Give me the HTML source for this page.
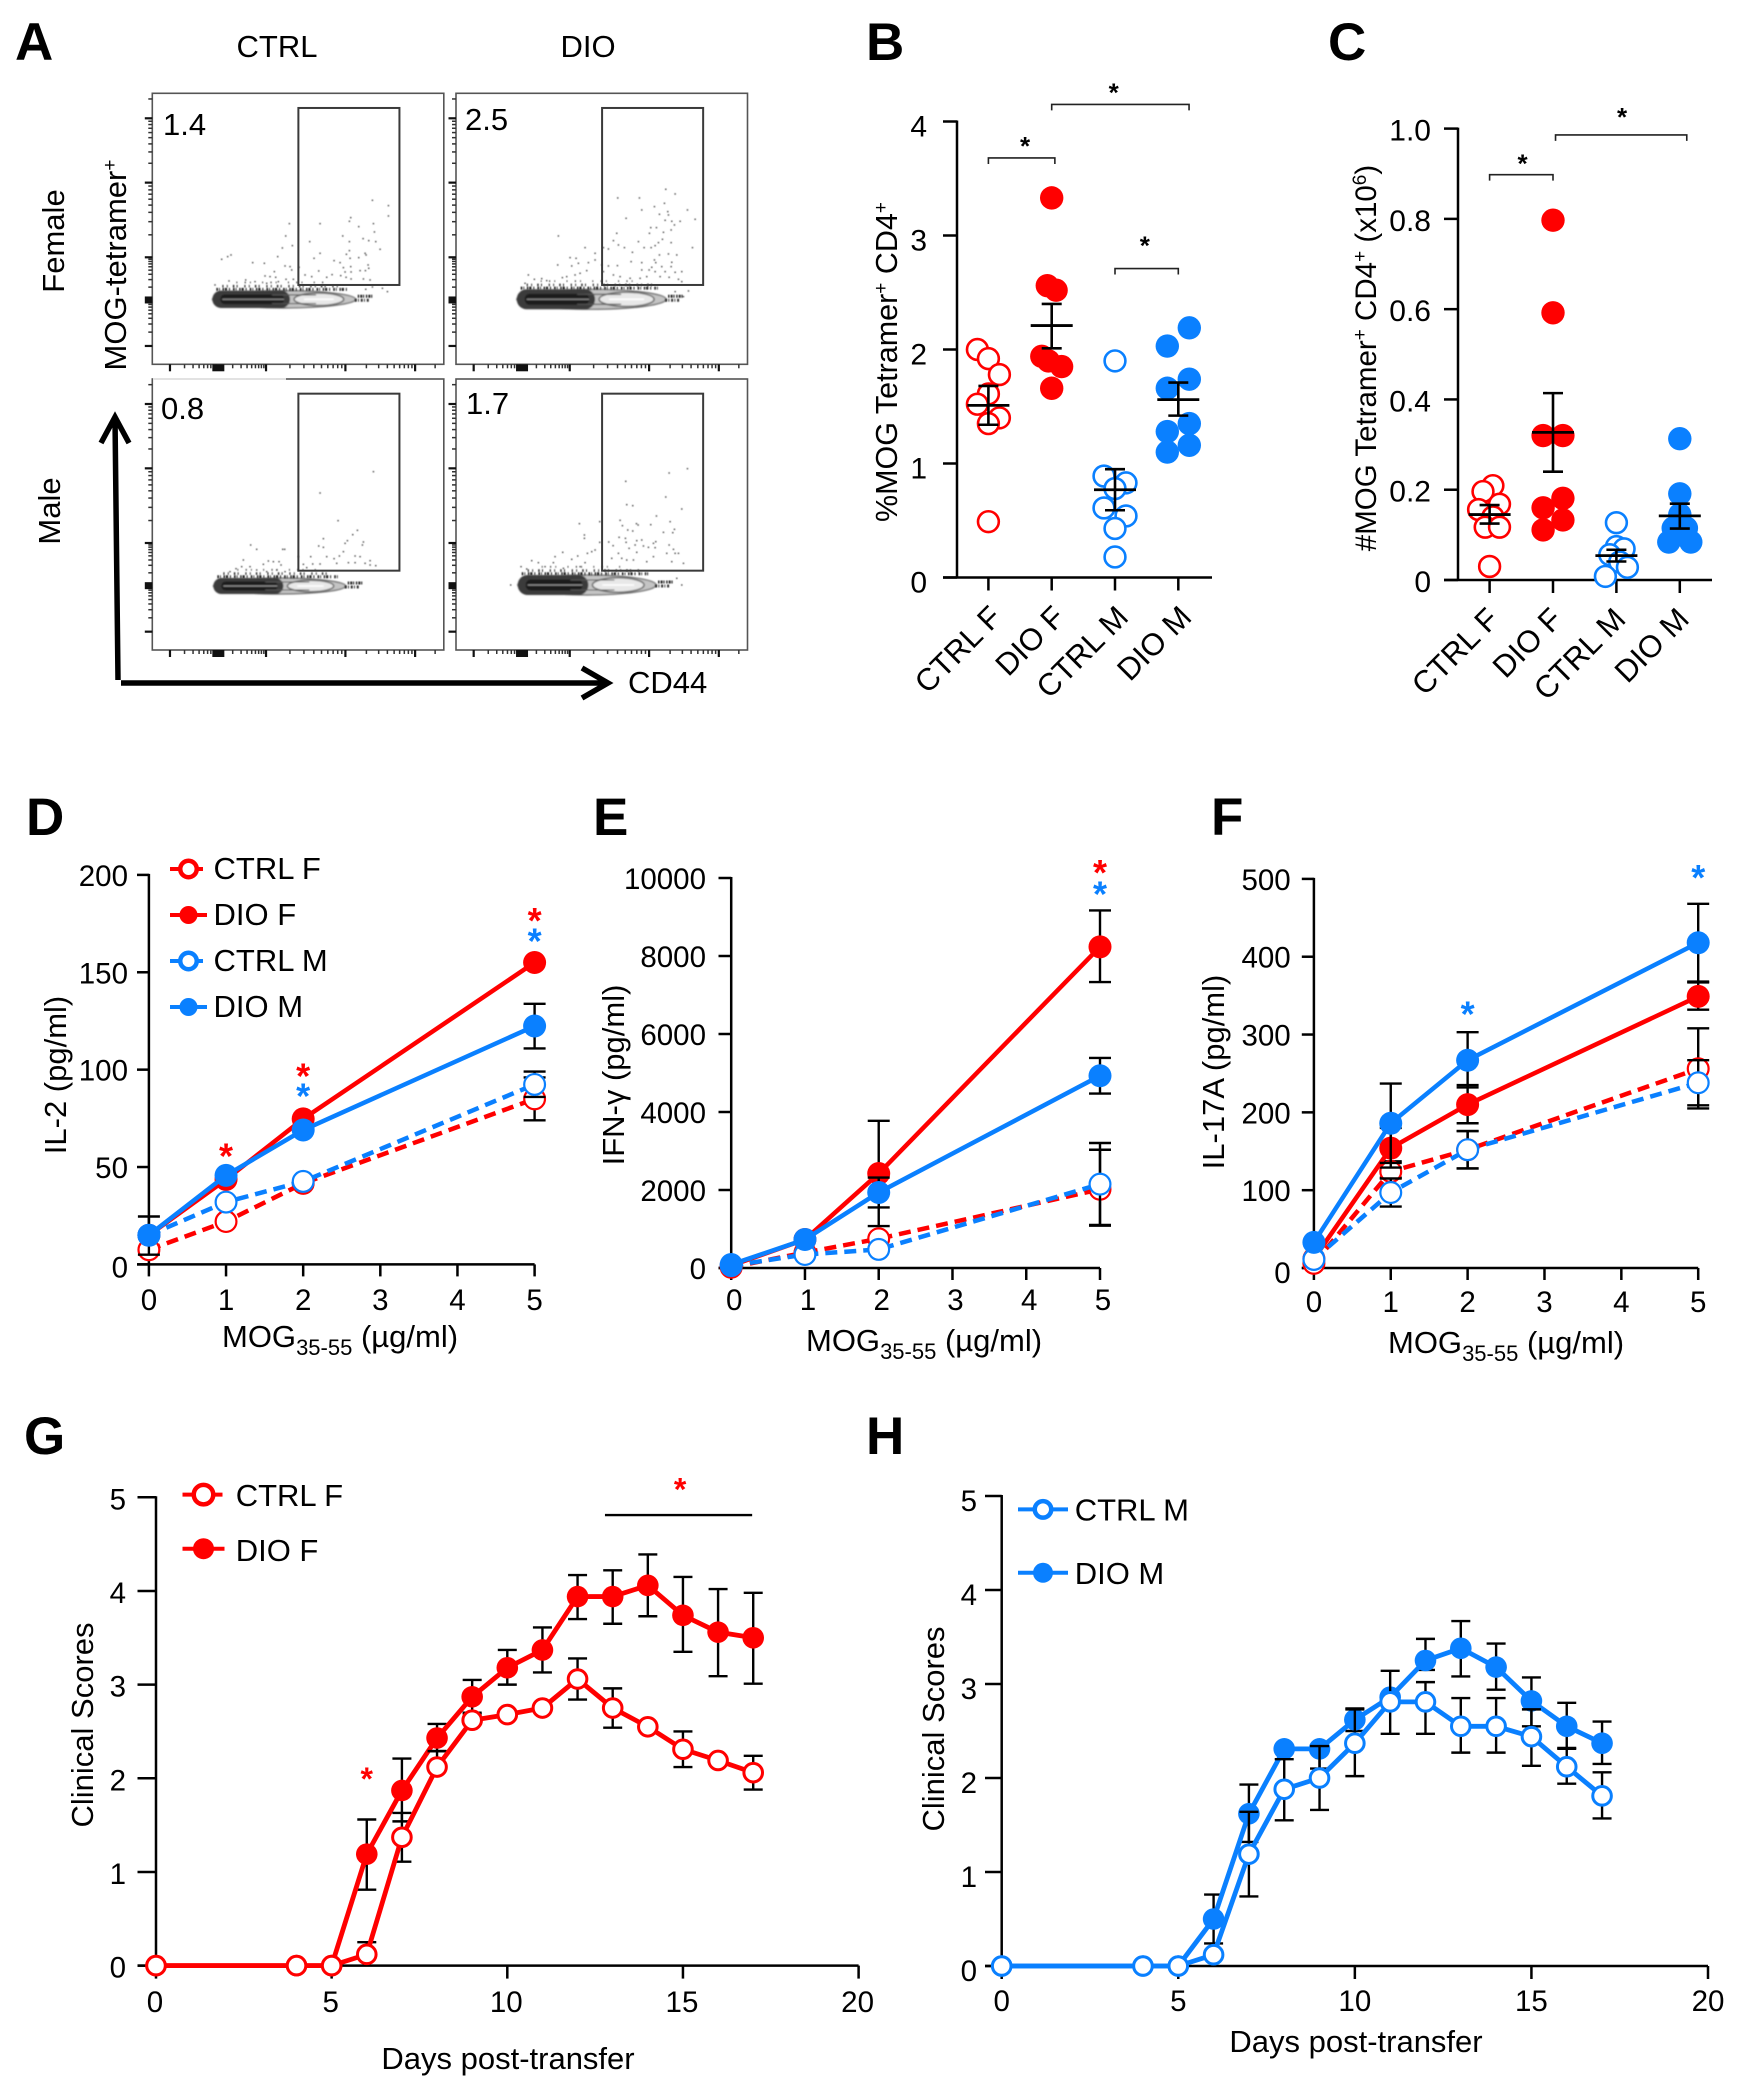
<!DOCTYPE html>
<html lang="en">
<head>
<meta charset="utf-8">
<title>MOG tetramer, cytokine and clinical score figure</title>
<style>
html,body{margin:0;padding:0;background:#fff;}
svg{display:block;}
text{font-family:"Liberation Sans",sans-serif;}
.letter{font-size:53px;font-weight:bold;}
.lab{font-size:31px;}
</style>
</head>
<body>
<svg id="figure" width="1747" height="2100" viewBox="0 0 1747 2100">
  <defs>
    <filter id="soft" x="-5%" y="-5%" width="110%" height="110%"><feGaussianBlur stdDeviation="0.4"/></filter>
    <filter id="softer" x="-5%" y="-30%" width="110%" height="160%"><feGaussianBlur stdDeviation="0.85"/></filter>
  </defs>
  <rect width="1747" height="2100" fill="#fff"/>

  <text class="letter" x="15" y="60">A</text>
  <text class="letter" x="866" y="60">B</text>
  <text class="letter" x="1328" y="60">C</text>
  <text class="letter" x="26" y="835">D</text>
  <text class="letter" x="593" y="835">E</text>
  <text class="letter" x="1211" y="835">F</text>
  <text class="letter" x="24" y="1454">G</text>
  <text class="letter" x="866" y="1454">H</text>

  <text class="lab" x="277" y="57" text-anchor="middle">CTRL</text>
  <text class="lab" x="588" y="57" text-anchor="middle">DIO</text>
  <text class="lab" transform="translate(64,241) rotate(-90)" text-anchor="middle">Female</text>
  <text class="lab" transform="translate(60,511) rotate(-90)" text-anchor="middle">Male</text>
  <text class="lab" transform="translate(126,265) rotate(-90)" text-anchor="middle">MOG-tetramer<tspan dy="-10" font-size="19">+</tspan></text>
  <text class="lab" x="628" y="693">CD44</text>
  <path d="M118 680 L115 418 M101 443 L115 417 L129 443" fill="none" stroke="#000" stroke-width="5.5"/>
  <path d="M121 683 L606 683 M582 668 L608 683 L582 698" fill="none" stroke="#000" stroke-width="5.5"/>

  <text font-size="30.5" transform="translate(897,362) rotate(-90)" text-anchor="middle">%MOG Tetramer<tspan dy="-10" font-size="19">+</tspan><tspan dy="10"> CD4</tspan><tspan dy="-10" font-size="19">+</tspan></text>
  <text font-size="29.5" transform="translate(1376,358) rotate(-90)" text-anchor="middle">#MOG Tetramer<tspan dy="-10" font-size="19">+</tspan><tspan dy="10"> CD4</tspan><tspan dy="-10" font-size="19">+</tspan><tspan dy="10"> (x10</tspan><tspan dy="-10" font-size="19">6</tspan><tspan dy="10">)</tspan></text>

  <text class="lab" transform="translate(66,1075) rotate(-90)" text-anchor="middle">IL-2 (pg/ml)</text>
  <text class="lab" x="222" y="1347">MOG<tspan dy="8" font-size="22">35-55</tspan><tspan dy="-8"> (µg/ml)</tspan></text>
  <text class="lab" transform="translate(624,1075) rotate(-90)" text-anchor="middle">IFN-γ (pg/ml)</text>
  <text class="lab" x="806" y="1351">MOG<tspan dy="8" font-size="22">35-55</tspan><tspan dy="-8"> (µg/ml)</tspan></text>
  <text class="lab" transform="translate(1224,1072) rotate(-90)" text-anchor="middle">IL-17A (pg/ml)</text>
  <text class="lab" x="1388" y="1353">MOG<tspan dy="8" font-size="22">35-55</tspan><tspan dy="-8"> (µg/ml)</tspan></text>

  <text class="lab" transform="translate(93,1725) rotate(-90)" text-anchor="middle">Clinical Scores</text>
  <text class="lab" x="508" y="2069" text-anchor="middle">Days post-transfer</text>
  <text class="lab" transform="translate(944,1729) rotate(-90)" text-anchor="middle">Clinical Scores</text>
  <text class="lab" x="1356" y="2052" text-anchor="middle">Days post-transfer</text>
</svg>

<script>
/* ---------- Panel A: flow cytometry events, [CD44 channel, tetramer channel] ---------- */
const flowCtrlFemaleEvents = [[660,492],[708,476],[708,445],[595,440],[591,429],[663,422],[619,413],[503,422],[411,422],[666,397],[571,385],[400,385],[591,368],[632,377],[649,371],[670,368],[472,368],[420,356],[390,349],[683,345],[591,341],[503,333],[582,330],[638,333],[641,328],[376,323],[485,318],[593,318],[619,320],[545,311],[563,305],[208,315],[226,323],[236,328],[301,305],[336,303],[398,295],[413,293],[440,291],[573,290],[595,293],[647,298],[649,288],[623,281],[639,281],[578,277],[596,277],[499,280],[366,278],[418,283],[338,265],[353,263],[370,261],[401,255],[423,255],[458,268],[478,263],[523,261],[539,269],[565,266],[581,261],[596,256],[633,256],[653,253],[280,253],[230,250],[188,238],[308,248],[343,243],[378,248],[660,232],[690,228],[640,225],[705,218]];
const flowDioFemaleEvents = [[629,525],[657,511],[485,499],[550,499],[625,483],[595,473],[557,463],[694,463],[610,450],[635,458],[637,448],[510,438],[717,435],[627,432],[647,429],[672,429],[655,418],[584,410],[601,410],[580,393],[622,396],[645,403],[482,393],[307,385],[472,371],[619,375],[547,368],[607,365],[645,365],[487,358],[597,356],[585,350],[564,350],[457,346],[442,350],[505,350],[709,350],[387,350],[529,336],[417,333],[610,328],[637,331],[662,328],[342,320],[360,318],[595,313],[599,305],[557,305],[647,306],[525,308],[367,303],[347,295],[397,305],[417,313],[305,298],[587,291],[617,293],[645,293],[437,298],[457,295],[484,296],[557,283],[579,283],[597,278],[627,278],[657,276],[677,278],[392,281],[372,273],[357,268],[332,263],[319,260],[217,268],[235,255],[257,257],[272,251],[207,243],[442,278],[472,268],[492,263],[522,258],[552,258],[572,263],[612,263],[639,261],[667,255],[677,248],[697,220],[682,203],[657,218]];
const flowCtrlMaleEvents = [[663,535],[503,471],[557,388],[615,359],[601,346],[513,334],[585,328],[633,324],[630,315],[578,320],[499,312],[513,308],[295,315],[313,302],[391,302],[397,302],[573,295],[438,280],[475,280],[523,280],[561,282],[545,274],[608,282],[623,280],[273,270],[348,267],[363,265],[380,265],[653,268],[453,257],[481,258],[503,258],[553,260],[588,262],[608,262],[638,260],[653,255],[670,253],[333,257],[386,255],[268,250],[293,250],[251,244],[233,235],[313,240],[343,235],[373,240],[398,235],[463,247]];
const flowDioMaleEvents = [[694,544],[639,531],[509,506],[629,459],[512,436],[530,433],[677,423],[601,402],[492,389],[642,385],[370,379],[431,385],[541,379],[546,375],[584,376],[499,373],[655,362],[515,360],[530,357],[622,353],[650,352],[385,345],[385,335],[489,338],[508,335],[510,323],[557,330],[542,328],[599,325],[592,320],[458,324],[471,313],[431,323],[537,315],[562,312],[577,308],[519,305],[639,315],[597,307],[652,302],[417,300],[394,290],[320,293],[407,295],[542,293],[487,290],[592,280],[632,290],[667,290],[657,290],[365,282],[467,275],[497,275],[512,270],[532,270],[572,265],[647,265],[682,260],[297,280],[347,272],[227,268],[292,262],[387,262],[195,250],[212,243],[247,262],[267,250],[322,245],[372,250],[164,195],[677,195],[662,215]];
const flowPercentLabels = ['1.4','2.5','0.8','1.7'];
const cd44Decades = [53,198,341,579,788];
const tetramerDecades = [55,193,321,545,738];
const logMinorSteps = [2,3,4,5,6,7,8,9];

/* ---------- Panels B and C ---------- */
const groupCategories = ['CTRL F','DIO F','CTRL M','DIO M'];

const bYTicks = [0,1,2,3,4];
const bCtrlFValues = [2.0,1.92,1.78,1.61,1.52,1.40,1.35,0.49];
const bDioFValues = [3.33,2.56,2.52,1.94,1.90,1.85,1.66];
const bCtrlMValues = [1.90,0.89,0.83,0.78,0.61,0.54,0.43,0.18];
const bDioMValues = [2.19,2.03,1.74,1.66,1.35,1.28,1.16,1.10];
const bCtrlFSlots = [-1,0,1,0,-1,1,0,0];
const bDioFSlots = [0,-0.4,0.4,-0.9,-0.3,0.9,0];
const bCtrlMSlots = [0,-1,1,0,-1,1,0,0];
const bDioMSlots = [1,-1,1,-1,1,-1,1,-1];
const bMeans = [1.51,2.21,0.77,1.56];
const bSemUpper = [1.68,2.40,0.95,1.71];
const bSemLower = [1.34,2.01,0.59,1.42];
const bBracketStart = [0,1,2];
const bBracketEnd = [1.05,3.17,3];
const bBracketLevel = [3.68,4.15,2.71];
const bStarPosition = [0.58,1.98,2.47];
const bStarLevel = [3.80,4.27,2.93];

const cYTicks = [0,0.2,0.4,0.6,0.8,1.0];
const cYTickLabels = ['0','0.2','0.4','0.6','0.8','1.0'];
const cCtrlFValues = [0.209,0.196,0.168,0.156,0.14,0.117,0.117,0.03];
const cDioFValues = [0.797,0.592,0.32,0.32,0.181,0.16,0.133,0.111];
const cCtrlMValues = [0.127,0.074,0.069,0.056,0.04,0.028,0.008];
const cDioMValues = [0.313,0.191,0.145,0.115,0.115,0.10,0.084,0.084];
const cCtrlFSlots = [0.3,-0.6,0.9,-1,0.3,-0.4,0.9,0];
const cDioFSlots = [0,0,-0.9,0.9,0.9,-0.9,0.9,-0.9];
const cCtrlMSlots = [0,0,0.7,-0.6,0.3,1,-1];
const cDioMSlots = [0,0,0,-0.6,0.6,0,-1,1];
const cMeans = [0.145,0.327,0.054,0.142];
const cSemUpper = [0.166,0.414,0.067,0.169];
const cSemLower = [0.125,0.24,0.041,0.114];
const cBracketStart = [0,1.04];
const cBracketEnd = [1,3.11];
const cBracketLevel = [0.898,0.986];
const cStarPosition = [0.52,2.09];
const cStarLevel = [0.927,1.03];

/* ---------- Panels D, E, F ---------- */
const doseTicks = [0,1,2,3,4,5];
const doses = [0,1,2,5];

const dYTicks = [0,50,100,150,200];
const dCtrlF = [7.5,22,41.6,85];
const dCtrlFUpper = [null,null,null,96];
const dCtrlFLower = [null,null,null,74];
const dDioF = [15,43.6,74.7,155];
const dDioFUpper = [null,null,null,null];
const dDioFLower = [null,null,null,null];
const dCtrlM = [15,32,42.6,92.4];
const dCtrlMUpper = [null,null,null,99];
const dCtrlMLower = [null,null,null,86];
const dDioM = [15,45.7,69,122.4];
const dDioMUpper = [24.6,null,null,133.8];
const dDioMLower = [5,null,null,110.9];
const dRedStarDoses = [1,2,5];
const dRedStarLevels = [57,98,178];
const dBlueStarDoses = [2,5];
const dBlueStarLevels = [87.7,167.5];

const eYTicks = [0,2000,4000,6000,8000,10000];
const eCtrlF = [20,395,750,2018];
const eCtrlFUpper = [null,null,null,3032];
const eCtrlFLower = [null,null,null,1085];
const eDioF = [60,730,2424,8235];
const eDioFUpper = [null,null,3773,9168];
const eDioFLower = [null,null,1075,7333];
const eCtrlM = [60,345,476,2150];
const eCtrlMUpper = [null,null,null,3205];
const eCtrlMLower = [null,null,null,1105];
const eDioM = [90,730,1937,4929];
const eDioMUpper = [null,null,2320,5385];
const eDioMLower = [null,null,1552,4473];
const eRedStarDoses = [5];
const eRedStarLevels = [10203];
const eBlueStarDoses = [5];
const eBlueStarLevels = [9655];

const fYTicks = [0,100,200,300,400,500];
const fCtrlF = [6,124,152,256];
const fCtrlFUpper = [null,137,176,308];
const fCtrlFLower = [null,116,128,205];
const fDioF = [12,154,210,349];
const fDioFUpper = [null,180,235,367];
const fDioFLower = [null,129,186,332];
const fCtrlM = [11,97,152,238];
const fCtrlMUpper = [null,115,176,267];
const fCtrlMLower = [null,79,128,209];
const fDioM = [33,186,267,418];
const fDioMUpper = [null,237,303,468];
const fDioMLower = [null,135,232,368];
const fRedStarDoses = [];
const fRedStarLevels = [];
const fBlueStarDoses = [2,5];
const fBlueStarLevels = [330,505];

/* ---------- Panels G, H ---------- */
const scoreYTicks = [0,1,2,3,4,5];
const dayTicks = [0,5,10,15,20];
const days = [0,4,5,6,7,8,9,10,11,12,13,14,15,16,17];

const gCtrlF = [0,0,0,0.12,1.37,2.12,2.62,2.68,2.75,3.06,2.75,2.55,2.31,2.19,2.06];
const gCtrlFUpper = [null,null,null,0.25,1.63,2.29,2.70,null,null,3.28,2.96,null,2.50,null,2.24];
const gCtrlFLower = [null,null,null,null,1.11,null,null,null,null,2.84,2.54,null,2.12,null,1.88];
const gDioF = [0,0,0,1.19,1.87,2.43,2.87,3.18,3.37,3.94,3.94,4.06,3.74,3.56,3.50];
const gDioFUpper = [null,null,null,1.56,2.21,2.58,3.05,3.37,3.61,4.17,4.22,4.39,4.15,4.02,3.98];
const gDioFLower = [null,null,null,0.81,1.54,2.29,2.69,3.00,3.13,3.70,3.65,3.73,3.35,3.09,3.01];
const gStarDays = [6,14.92];
const gStarLevels = [2.02,5.11];
const gSpanDays = [12.78,16.97];
const gSpanLevel = 4.81;

const hCtrlM = [0,0,0,0.12,1.19,1.88,2.00,2.37,2.81,2.81,2.55,2.55,2.44,2.12,1.81];
const hCtrlMUpper = [null,null,null,null,1.64,2.20,2.34,2.73,3.14,3.02,2.85,2.85,2.73,2.32,2.06];
const hCtrlMLower = [null,null,null,null,0.74,1.55,1.66,2.02,2.47,2.47,2.27,2.27,2.13,1.94,1.57];
const hDioM = [0,0,0,0.50,1.62,2.31,2.31,2.62,2.86,3.25,3.38,3.18,2.82,2.55,2.37];
const hDioMUpper = [null,null,null,0.76,1.93,null,2.34,2.74,null,3.48,3.67,3.43,3.07,2.80,2.60];
const hDioMLower = [null,null,null,0.24,1.32,null,2.10,2.50,null,3.15,3.08,2.94,2.55,2.31,2.15];

/* ---------- drawing helpers ---------- */
const RED = '#ff0000';
const BLUE = '#0a80ff';
const root = document.getElementById('figure');

function mk(parent, tag, attrs, content) {
  const n = document.createElementNS(root.namespaceURI, tag);
  Object.keys(attrs).forEach(function (k) {
    if (attrs[k] !== null && attrs[k] !== undefined) n.setAttribute(k, attrs[k]);
  });
  if (content !== undefined) n.textContent = content;
  parent.appendChild(n);
  return n;
}
function linear(d0, d1, r0, r1) {
  return function (v) { return r0 + (v - d0) * (r1 - r0) / (d1 - d0); };
}
function addGroup(name) {
  const g = mk(root, 'g', {});
  
  
  return g;
}
function drawLine(parent, x1, y1, x2, y2, stroke, width, name, dash) {
  const n = mk(parent, 'line', {x1: x1, y1: y1, x2: x2, y2: y2, stroke: stroke, 'stroke-width': width, 'stroke-dasharray': dash});
  
  
  return n;
}
function drawText(parent, x, y, content, size, anchor, name, fill, transform) {
  const n = mk(parent, 'text', {x: x, y: y, 'font-size': size, 'text-anchor': anchor, fill: fill, transform: transform}, content);
  
  
  return n;
}
/* r is the outer radius of the marker in both the filled and the open style */
function drawCircle(parent, x, y, r, color, open, strokeWidth, name) {
  const n = mk(parent, 'circle', {cx: x, cy: y, r: open ? r - strokeWidth / 2 : r, fill: open ? '#fff' : color, stroke: color, 'stroke-width': open ? strokeWidth : 0});
  
  
  return n;
}
function drawStar(parent, x, y, color, size) {
  const n = mk(parent, 'text', {x: x, y: y + 0.42 * size, 'font-size': size, 'text-anchor': 'middle', 'font-weight': 'bold', fill: color}, '*');
  
  
  return n;
}
function drawErrorBar(parent, x, top, bottom, capHalf, width) {
  drawLine(parent, x, top, x, bottom, '#000', width, 'error-bar-stem');
  drawLine(parent, x - capHalf, top, x + capHalf, top, '#000', width, 'error-bar-cap');
  drawLine(parent, x - capHalf, bottom, x + capHalf, bottom, '#000', width, 'error-bar-cap');
}
function drawAxisLines(g, o, xTicks, yTicks, xLabels, yLabels) {
  const sx = o.sx, sy = o.sy;
  drawLine(g, o.x0, sy(yTicks[yTicks.length - 1]) - 1, o.x0, sy(0) + 1, '#000', 2.5, 'y-axis-line');
  drawLine(g, o.tickLeft, sy(0), o.xEnd, sy(0), '#000', 2.5, 'x-axis-line');
  yTicks.forEach(function (t, i) {
    drawLine(g, o.tickLeft, sy(t), o.x0, sy(t), '#000', 2.5, 'y-tick');
    const dy = t === 0 && o.zeroDy ? o.zeroDy : o.yLabelDy;
    drawText(g, o.yLabelRight, sy(t) + dy, yLabels ? yLabels[i] : String(t), o.fontSize, 'end', 'y-tick-label');
  });
  xTicks.forEach(function (t, i) {
    drawLine(g, sx(t), sy(0), sx(t), o.tickBottom, '#000', 2.5, 'x-tick');
    drawText(g, sx(t) + (o.xLabelDx || 0), o.xLabelBaseline, xLabels ? xLabels[i] : String(t), o.fontSize, 'middle', 'x-tick-label');
  });
}
function drawSeries(g, xs, ys, upper, lower, sx, sy, o) {
  xs.forEach(function (x, i) {
    if (upper[i] !== null || lower[i] !== null) {
      const top = upper[i] !== null ? upper[i] : ys[i];
      const bottom = lower[i] !== null ? lower[i] : ys[i];
      drawErrorBar(g, sx(x), sy(top), sy(bottom), o.capHalf, 2.4);
    }
  });
  const points = xs.map(function (x, i) { return sx(x) + ',' + sy(ys[i]); }).join(' ');
  const path = mk(g, 'polyline', {points: points, fill: 'none', stroke: o.color, 'stroke-width': o.lineWidth, 'stroke-dasharray': o.dash, 'stroke-linejoin': 'round'});
  
  
  xs.forEach(function (x, i) {
    drawCircle(g, sx(x), sy(ys[i]), o.radius, o.color, o.open, o.markerStroke, 'series-point');
  });
}
function drawLegendEntry(g, o) {
  drawLine(g, o.x1, o.y, o.x2, o.y, o.color, 4, 'legend-line', o.dash);
  drawCircle(g, (o.x1 + o.x2) / 2 + o.cxShift, o.y, o.r, o.color, o.open, 4.5, 'legend-marker');
  drawText(g, o.textX, o.baseline, o.label, 31, 'start', 'legend-label');
}

/* ---------- Panel A ---------- */
function drawFlowPanel(name, left, top, events, o, label, labelX, labelY) {
  const g = addGroup(name);
  const width = 291.5, height = 271;
  const right = left + width, bottom = top + height;
  const cx = linear(0, 874, left, right);
  const cy = linear(0, 813, bottom, top);

  const half = o.half / 3;
  const yc = cy(o.center);
  const xs = cx(o.start), xe = cx(o.end), xm = cx(o.split);

  const contour = mk(g, 'g', {filter: 'url(#softer)'});
  
  

  const outer = mk(contour, 'ellipse', {cx: (xs + xe) / 2, cy: yc, rx: (xe - xs) / 2, ry: half, fill: '#c4c4c4', stroke: '#666', 'stroke-width': 1.2});
  
  
  const dark = mk(contour, 'rect', {x: xs, y: yc - half, width: xm - xs, height: half * 2, rx: half, fill: '#3a3a3a'});
  
  
  const core = mk(contour, 'rect', {x: xs + 8, y: yc - half * 0.55, width: xm - xs - 14, height: half * 1.1, rx: half * 0.5, fill: '#1c1c1c'});
  
  
  const mid = mk(contour, 'ellipse', {cx: (xm + xe) / 2 - 4, cy: yc, rx: (xe - xm) / 2 - 8, ry: half * 0.72, fill: '#e8e8e8', stroke: '#6a6a6a', 'stroke-width': 1.5});
  
  
  drawLine(contour, xs + 10, yc, xm - 6, yc, '#9a9a9a', 1.1, 'contour-highlight');
  drawLine(contour, xm + 14, yc, xe - 22, yc, '#fff', 1.6, 'contour-highlight');
  drawLine(contour, xm - 18, yc - half * 0.5, xm + 26, yc - half * 0.5, '#555', 1.1, 'contour-line');
  drawLine(contour, xm - 18, yc + half * 0.5, xm + 26, yc + half * 0.5, '#555', 1.1, 'contour-line');

  const plot = mk(g, 'g', {filter: 'url(#soft)'});
  
  
  drawLine(plot, xs + 4, yc - half - 1.2, xe - 8, yc - half - 1.2, '#222', 3, 'contour-fringe', '1.6 1.1 0.8 2.7 1.4 0.9 2.2 1.9 1 3.1');
  drawLine(plot, xs + 10, yc - half - 4.4, xe - 14, yc - half - 4.4, '#333', 2.6, 'contour-fringe', '1.2 3.3 0.9 5.1 1.5 2.3 1 6.7');
  drawLine(plot, xs + 24, yc - half - 8.2, xe - 30, yc - half - 8.2, '#555', 1.8, 'contour-fringe', '1 7.3 1.2 4.1 0.9 11.3');
  drawLine(plot, xe + 2, yc - 3, xe + 18, yc - 3, '#222', 3, 'contour-cluster', '1.4 1.1 2 0.8 1.1 1.7');
  drawLine(plot, xe - 1, yc + 1, xe + 14, yc + 1, '#333', 3, 'contour-cluster', '2 1.3 0.9 1.8');

  events.forEach(function (e) {
    const d = mk(plot, 'rect', {x: cx(e[0]) - 0.7, y: cy(e[1]) - 0.7, width: 1.4, height: 1.4, fill: '#444'});
    
    
  });

  const frame = mk(g, 'rect', {x: left, y: top, width: width, height: height, fill: 'none', stroke: '#555', 'stroke-width': 1.6});
  
  
  const gate = mk(g, 'rect', {x: cx(438), y: cy(769), width: cx(741) - cx(438), height: cy(238) - cy(769), fill: 'none', stroke: '#3a3a3a', 'stroke-width': 2});
  
  

  tetramerDecades.forEach(function (c, i) {
    drawLine(g, left - 7.5, cy(c), left, cy(c), '#111', i === 1 ? 7 : 2.2, 'flow-y-major-tick');
    if (i < tetramerDecades.length - 1) {
      logMinorSteps.forEach(function (m) {
        const v = c + (tetramerDecades[i + 1] - c) * Math.log10(m);
        drawLine(g, left - 4, cy(v), left, cy(v), '#333', 1.5, 'flow-y-minor-tick');
      });
    }
  });
  drawLine(g, left - 4, cy(796), left, cy(796), '#333', 1.5, 'flow-y-minor-tick');
  cd44Decades.forEach(function (c, i) {
    drawLine(g, cx(c), bottom, cx(c), bottom + 7, '#111', i === 1 ? 12 : 2.2, 'flow-x-major-tick');
    if (i < cd44Decades.length - 1) {
      logMinorSteps.forEach(function (m) {
        const v = c + (cd44Decades[i + 1] - c) * Math.log10(m);
        drawLine(g, cx(v), bottom, cx(v), bottom + 4, '#333', 1.5, 'flow-x-minor-tick');
      });
    }
  });
  drawLine(g, cx(848), bottom, cx(848), bottom + 4, '#333', 1.5, 'flow-x-minor-tick');
  drawText(g, labelX, labelY, label, 31, 'start', 'gate-percentage');
  return g;
}

drawFlowPanel('flow-plot-ctrl-female', 152.3, 93.3, flowCtrlFemaleEvents, {start: 180, end: 610, split: 413, center: 195, half: 26}, flowPercentLabels[0], 163, 135);
drawFlowPanel('flow-plot-dio-female', 456, 93.3, flowDioFemaleEvents, {start: 182, end: 630, split: 417, center: 195, half: 30}, flowPercentLabels[1], 465, 130);
const maleCtrl = drawFlowPanel('flow-plot-ctrl-male', 152.3, 379, flowCtrlMaleEvents, {start: 183, end: 580, split: 393, center: 192, half: 24}, flowPercentLabels[2], 161, 419);
drawLine(maleCtrl, 153, 379, 286, 379, '#e2e2e2', 2, 'frame-faded-edge');
drawFlowPanel('flow-plot-dio-male', 456, 379, flowDioMaleEvents, {start: 185, end: 600, split: 397, center: 195, half: 30}, flowPercentLabels[3], 466, 414);

/* ---------- Panels B, C ---------- */
function drawDotPanel(name, o, yTicks, yLabels, groups, means, upper, lower, brackets) {
  const g = addGroup(name);
  const sy = linear(0, yTicks[yTicks.length - 1], o.y0, o.yTop);
  const sx = function (i) { return o.cat0 + i * o.step; };
  const xIdx = groupCategories.map(function (_, i) { return i; });
  drawLine(g, o.x0, o.yTop - 1, o.x0, o.y0 + 1, '#000', 2.5, 'y-axis-line');
  drawLine(g, o.tickLeft, o.y0, o.xEnd, o.y0, '#000', 2.5, 'x-axis-line');
  yTicks.forEach(function (t, i) {
    drawLine(g, o.tickLeft, sy(t), o.x0, sy(t), '#000', 2.5, 'y-tick');
    drawText(g, o.yLabelRight, sy(t) + o.yLabelDy, yLabels[i], 30, 'end', 'y-tick-label');
  });
  xIdx.forEach(function (i) {
    drawLine(g, sx(i), o.y0, sx(i), o.y0 + 13, '#000', 2.5, 'x-tick');
    const ax = sx(i) + o.catDx, ay = o.catY;
    drawText(g, ax, ay, groupCategories[i], 31, 'end', 'x-category-label', null, 'rotate(-45 ' + ax + ' ' + ay + ')');
  });
  groups.forEach(function (s, i) {
    s.values.forEach(function (v, j) {
      drawCircle(g, sx(i) + s.slots[j] * o.slotWidth, sy(v), 11.7, s.color, s.open, 2.6, 'data-point');
    });
  });
  xIdx.forEach(function (i) {
    drawLine(g, sx(i) - 21, sy(means[i]), sx(i) + 21, sy(means[i]), '#000', 2.8, 'mean-line');
    drawErrorBar(g, sx(i), sy(upper[i]), sy(lower[i]), 10, 2.6);
  });
  brackets.start.forEach(function (s, i) {
    const x1 = sx(s), x2 = sx(brackets.end[i]), y = sy(brackets.level[i]);
    const b = mk(g, 'polyline', {points: x1 + ',' + (y + 6) + ' ' + x1 + ',' + y + ' ' + x2 + ',' + y + ' ' + x2 + ',' + (y + 6), fill: 'none', stroke: '#222', 'stroke-width': 1.6});
    
    
    drawStar(g, sx(brackets.starAt[i]), sy(brackets.starLevel[i]), '#000', 26);
  });
}

drawDotPanel('panel-b-percent-tetramer',
  {x0: 957, tickLeft: 943, xEnd: 1212, y0: 577.5, yTop: 121.5, cat0: 988.4, step: 63.3, slotWidth: 11, catDx: 15, catY: 619, yLabelRight: 927, yLabelDy: 15},
  bYTicks, bYTicks.map(String),
  [{values: bCtrlFValues, slots: bCtrlFSlots, color: RED, open: true},
   {values: bDioFValues, slots: bDioFSlots, color: RED, open: false},
   {values: bCtrlMValues, slots: bCtrlMSlots, color: BLUE, open: true},
   {values: bDioMValues, slots: bDioMSlots, color: BLUE, open: false}],
  bMeans, bSemUpper, bSemLower,
  {start: bBracketStart, end: bBracketEnd, level: bBracketLevel, starAt: bStarPosition, starLevel: bStarLevel});

drawDotPanel('panel-c-number-tetramer',
  {x0: 1458, tickLeft: 1444, xEnd: 1712, y0: 580, yTop: 128.6, cat0: 1489.6, step: 63.4, slotWidth: 11, catDx: 11, catY: 621, yLabelRight: 1431, yLabelDy: 12},
  cYTicks, cYTickLabels,
  [{values: cCtrlFValues, slots: cCtrlFSlots, color: RED, open: true},
   {values: cDioFValues, slots: cDioFSlots, color: RED, open: false},
   {values: cCtrlMValues, slots: cCtrlMSlots, color: BLUE, open: true},
   {values: cDioMValues, slots: cDioMSlots, color: BLUE, open: false}],
  cMeans, cSemUpper, cSemLower,
  {start: cBracketStart, end: cBracketEnd, level: cBracketLevel, starAt: cStarPosition, starLevel: cStarLevel});

/* ---------- Panels D, E, F ---------- */
function drawDosePanel(name, o, yTicks, series, redDoses, redLevels, blueDoses, blueLevels) {
  const g = addGroup(name);
  const sx = linear(0, 5, o.x0, o.x5);
  const sy = linear(0, yTicks[yTicks.length - 1], o.y0, o.yTop);
  const a = {sx: sx, sy: sy, x0: o.x0, tickLeft: o.tickLeft, xEnd: o.x5, tickBottom: o.y0 + 12, xLabelDx: o.xLabelDx, xLabelBaseline: o.xLabelBaseline, yLabelRight: o.yLabelRight, yLabelDy: o.yLabelDy, zeroDy: o.zeroDy, fontSize: 29.5};
  drawAxisLines(g, a, doseTicks, yTicks);
  series.forEach(function (s) {
    drawSeries(g, doses, s.values, s.upper, s.lower, sx, sy, {capHalf: 11, color: s.color, lineWidth: 4.5, dash: s.open ? '12 7' : null, radius: 11.5, open: s.open, markerStroke: 2.2});
  });
  redDoses.forEach(function (d, i) { drawStar(g, sx(d), sy(redLevels[i]), RED, 36); });
  blueDoses.forEach(function (d, i) { drawStar(g, sx(d), sy(blueLevels[i]), BLUE, 36); });
  return g;
}

const panelD = drawDosePanel('panel-d-il2',
  {x0: 148.9, x5: 534.6, y0: 1264.4, yTop: 874.9, tickLeft: 137, xLabelDx: 0, xLabelBaseline: 1310, yLabelRight: 128, yLabelDy: 11, zeroDy: 13},
  dYTicks,
  [{values: dCtrlF, upper: dCtrlFUpper, lower: dCtrlFLower, color: RED, open: true},
   {values: dDioF, upper: dDioFUpper, lower: dDioFLower, color: RED, open: false},
   {values: dCtrlM, upper: dCtrlMUpper, lower: dCtrlMLower, color: BLUE, open: true},
   {values: dDioM, upper: dDioMUpper, lower: dDioMLower, color: BLUE, open: false}],
  dRedStarDoses, dRedStarLevels, dBlueStarDoses, dBlueStarLevels);

drawLegendEntry(panelD, {x1: 170, x2: 207, y: 869, cxShift: 0, r: 10.5, color: RED, open: true, dash: '14 5', textX: 213.5, baseline: 879, label: 'CTRL F'});
drawLegendEntry(panelD, {x1: 170, x2: 207, y: 915, cxShift: 0, r: 9, color: RED, open: false, dash: null, textX: 213.5, baseline: 925, label: 'DIO F'});
drawLegendEntry(panelD, {x1: 170, x2: 207, y: 961, cxShift: 0, r: 10.5, color: BLUE, open: true, dash: '14 5', textX: 213.5, baseline: 971, label: 'CTRL M'});
drawLegendEntry(panelD, {x1: 170, x2: 207, y: 1007, cxShift: 0, r: 9, color: BLUE, open: false, dash: null, textX: 213.5, baseline: 1017, label: 'DIO M'});

drawDosePanel('panel-e-ifn-gamma',
  {x0: 731.2, x5: 1100, y0: 1268, yTop: 878, tickLeft: 718.5, xLabelDx: 3, xLabelBaseline: 1310, yLabelRight: 706, yLabelDy: 11},
  eYTicks,
  [{values: eCtrlF, upper: eCtrlFUpper, lower: eCtrlFLower, color: RED, open: true},
   {values: eDioF, upper: eDioFUpper, lower: eDioFLower, color: RED, open: false},
   {values: eCtrlM, upper: eCtrlMUpper, lower: eCtrlMLower, color: BLUE, open: true},
   {values: eDioM, upper: eDioMUpper, lower: eDioMLower, color: BLUE, open: false}],
  eRedStarDoses, eRedStarLevels, eBlueStarDoses, eBlueStarLevels);

drawDosePanel('panel-f-il17a',
  {x0: 1313.9, x5: 1698.2, y0: 1268, yTop: 878.9, tickLeft: 1301.8, xLabelDx: 0, xLabelBaseline: 1312, yLabelRight: 1290.7, yLabelDy: 11, zeroDy: 15},
  fYTicks,
  [{values: fCtrlF, upper: fCtrlFUpper, lower: fCtrlFLower, color: RED, open: true},
   {values: fDioF, upper: fDioFUpper, lower: fDioFLower, color: RED, open: false},
   {values: fCtrlM, upper: fCtrlMUpper, lower: fCtrlMLower, color: BLUE, open: true},
   {values: fDioM, upper: fDioMUpper, lower: fDioMLower, color: BLUE, open: false}],
  fRedStarDoses, fRedStarLevels, fBlueStarDoses, fBlueStarLevels);

/* ---------- Panels G, H ---------- */
function drawScorePanel(name, o, series) {
  const g = addGroup(name);
  const sx = linear(0, 20, o.x0, o.x20);
  const sy = linear(0, 5, o.y0, o.yTop);
  const a = {sx: sx, sy: sy, x0: o.x0, tickLeft: o.tickLeft, xEnd: o.x20, tickBottom: o.y0 + 13, xLabelDx: o.xLabelDx, xLabelBaseline: o.xLabelBaseline, yLabelRight: o.yLabelRight, yLabelDy: o.yLabelDy, fontSize: 29.5};
  drawAxisLines(g, a, dayTicks, scoreYTicks);
  series.forEach(function (s) {
    drawSeries(g, days, s.values, s.upper, s.lower, sx, sy, {capHalf: 9.5, color: s.color, lineWidth: 4.8, dash: null, radius: 10.8, open: s.open, markerStroke: 3});
  });
  return {g: g, sx: sx, sy: sy};
}

const panelG = drawScorePanel('panel-g-clinical-scores-female',
  {x0: 156, x20: 858.6, y0: 1965.6, yTop: 1497.3, tickLeft: 137.5, xLabelDx: -1, xLabelBaseline: 2012, yLabelRight: 126, yLabelDy: 12},
  [{values: gDioF, upper: gDioFUpper, lower: gDioFLower, color: RED, open: false},
   {values: gCtrlF, upper: gCtrlFUpper, lower: gCtrlFLower, color: RED, open: true}]);
gStarDays.forEach(function (d, i) { drawStar(panelG.g, panelG.sx(d), panelG.sy(gStarLevels[i]), RED, 32); });
drawLine(panelG.g, panelG.sx(gSpanDays[0]), panelG.sy(gSpanLevel), panelG.sx(gSpanDays[1]), panelG.sy(gSpanLevel), '#000', 2.4, 'significance-span');
drawLegendEntry(panelG.g, {x1: 182.5, x2: 224.5, y: 1494.6, cxShift: 0, r: 12, color: RED, open: true, dash: '18 4', textX: 235.7, baseline: 1506, label: 'CTRL F'});
drawLegendEntry(panelG.g, {x1: 182.5, x2: 224.5, y: 1548.7, cxShift: 0, r: 10.5, color: RED, open: false, dash: null, textX: 235.7, baseline: 1561, label: 'DIO F'});

const panelH = drawScorePanel('panel-h-clinical-scores-male',
  {x0: 1001.7, x20: 1708, y0: 1966, yTop: 1496, tickLeft: 985, xLabelDx: 0, xLabelBaseline: 2011, yLabelRight: 977, yLabelDy: 15},
  [{values: hDioM, upper: hDioMUpper, lower: hDioMLower, color: BLUE, open: false},
   {values: hCtrlM, upper: hCtrlMUpper, lower: hCtrlMLower, color: BLUE, open: true}]);
drawLegendEntry(panelH.g, {x1: 1018, x2: 1068, y: 1509.4, cxShift: 0, r: 10.5, color: BLUE, open: true, dash: null, textX: 1074.7, baseline: 1520.5, label: 'CTRL M'});
drawLegendEntry(panelH.g, {x1: 1018, x2: 1068, y: 1572.8, cxShift: 0, r: 10, color: BLUE, open: false, dash: null, textX: 1074.7, baseline: 1584, label: 'DIO M'});
</script>
</body>
</html>
